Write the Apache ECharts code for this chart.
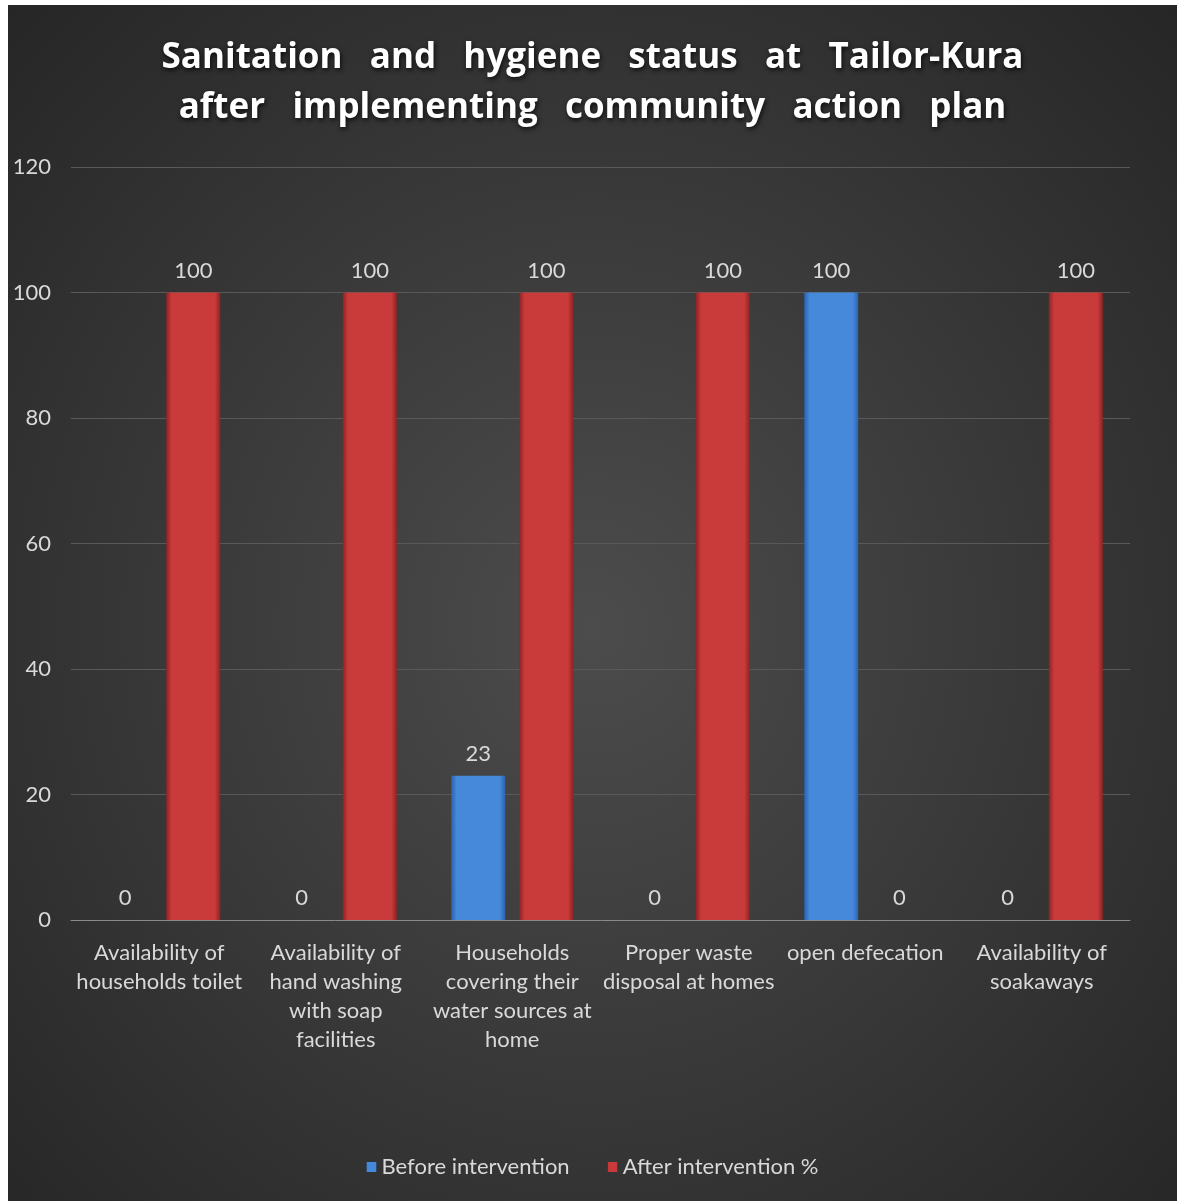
<!DOCTYPE html>
<html><head><meta charset="utf-8">
<script src="https://cdn.jsdelivr.net/npm/echarts@6/dist/echarts.min.js"></script>
<style>
html,body{margin:0;padding:0;background:#fff;width:1177px;height:1201px;overflow:hidden}
#c{position:absolute;left:8px;top:5px;width:1169px;height:1196px;
background:radial-gradient(ellipse at 50% 52%, #4c4c4c 0%, #3b3b3b 45%, #262626 100%);}
</style></head><body>
<div id="c"></div>
<script>
const titleText = 'Sanitation   and   hygiene   status   at   Tailor-Kura\nafter   implementing   community   action   plan';
const categories = [
  'Availability of\nhouseholds toilet',
  'Availability of\nhand washing\nwith soap\nfacilities',
  'Households\ncovering their\nwater sources at\nhome',
  'Proper waste\ndisposal at homes',
  'open defecation',
  'Availability of\nsoakaways'
];
const seriesNames = ['Before intervention', 'After intervention %'];
const beforeValues = [0, 0, 23, 0, 100, 0];
const afterValues = [100, 100, 100, 100, 0, 100];
const yMin = 0, yMax = 120, yStep = 20;

function hGrad(edge, mid){
  return new echarts.graphic.LinearGradient(0,0,1,0,[
    {offset:0,color:edge},{offset:0.1,color:mid},{offset:0.9,color:mid},{offset:1,color:edge}]);
}
const chart = echarts.init(document.getElementById('c'));
const labelStyle = {show:true, position:'top', distance:11, color:'#d9d9d9', fontFamily:'Lato', fontSize:22};
chart.setOption({
  animation:false,
  title:{text:titleText, left:'center', top:23,
    textStyle:{color:'#ffffff', fontFamily:'Open Sans', fontWeight:'bold', fontSize:35, lineHeight:50,
      textShadowColor:'rgba(0,0,0,0.8)', textShadowBlur:5, textShadowOffsetX:1, textShadowOffsetY:2}},
  legend:{bottom:18, left:'center', itemWidth:10, itemHeight:10, itemGap:38, icon:'rect',
    textStyle:{color:'#d9d9d9', fontFamily:'Lato', fontSize:22},
    data:seriesNames},
  grid:{left:63, right:47, top:162, bottom:281, containLabel:false},
  xAxis:{type:'category', data:categories,
    axisLine:{lineStyle:{color:'#8a8a8a', width:1}}, axisTick:{show:false},
    axisLabel:{color:'#d9d9d9', fontFamily:'Lato', fontSize:22, lineHeight:29, margin:18, interval:0}},
  yAxis:{type:'value', min:yMin, max:yMax, interval:yStep,
    axisLine:{show:false}, axisTick:{show:false},
    axisLabel:{color:'#d9d9d9', fontFamily:'Lato', fontSize:22, margin:20},
    splitLine:{lineStyle:{color:'#595959', width:1}}},
  series:[
    {name:seriesNames[0], type:'bar', data:beforeValues, barWidth:54, barGap:'26%',
      itemStyle:{color:hGrad('#2b63ad','#4688da')}, label:labelStyle},
    {name:seriesNames[1], type:'bar', data:afterValues, barWidth:54,
      itemStyle:{color:hGrad('#8e2323','#c93b3b')}, label:labelStyle}
  ]
});
</script></body></html>
